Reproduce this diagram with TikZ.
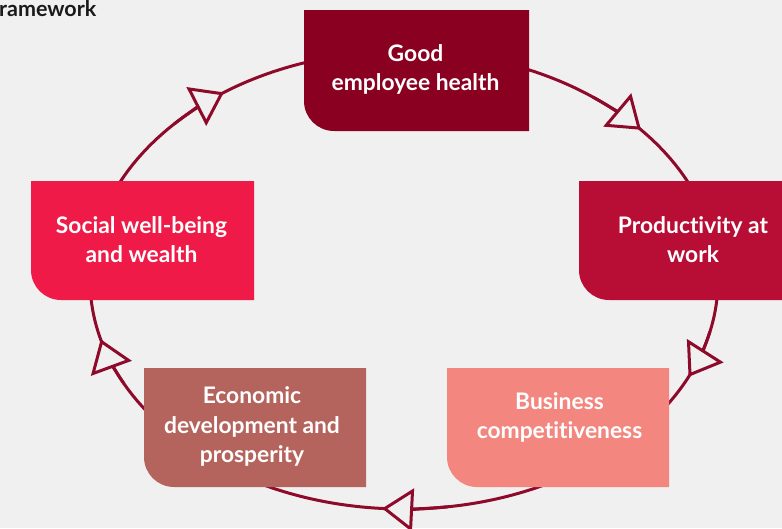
\documentclass[tikz,border=0pt]{standalone}
\usepackage{fontspec}
\setmainfont{Lato}[Ligatures=NoCommon]
\usetikzlibrary{arrows.meta}
\definecolor{bgc}{HTML}{F0F0F0}
\definecolor{ringc}{HTML}{8E0A2B}
\definecolor{cgood}{HTML}{8A0021}
\definecolor{cprod}{HTML}{B80D35}
\definecolor{csoc}{HTML}{EF1A47}
\definecolor{cecon}{HTML}{B5645D}
\definecolor{cbus}{HTML}{F3877F}
\definecolor{titlec}{HTML}{1A1A1A}
\newcommand\myshape[5]{\fill[#5] (#1,#2) -- (#3,#2) -- (#3,#4) -- ({#1+30},#4) arc[start angle=90,end angle=180,radius=30] -- cycle;}
\begin{document}
\begin{tikzpicture}[x=1pt,y=-1pt,
  ring/.style={draw=ringc,line width=3pt},
  arr/.style={ring,-{Triangle[length=31pt,width=43pt,fill=bgc]}},
  lbl/.style={text=white,font=\fontsize{22.8}{29.5}\selectfont\bfseries,align=center,inner sep=0pt}]
\fill[bgc] (0,0) rectangle (782,528);
\useasboundingbox (0,0) rectangle (782,528);
\draw[ring] (404,280) ellipse[x radius=314,y radius=229];
\foreach \t in {25,94,165,235,319}{
  \pgfmathsetmacro\s{\t-12}
  \draw[arr] (404,280) ++(\s:314 and 229) arc[start angle=\s,end angle=\t,x radius=314,y radius=229];
}
\myshape{304}{10}{529}{131}{cgood}
\myshape{579}{181}{807}{300}{cprod}
\myshape{31}{181}{254}{300}{csoc}
\myshape{144}{368}{366}{487}{cecon}
\myshape{447}{368}{669}{487}{cbus}
\node[lbl] (good) at (415.5,69.5) {Good\\employee health};
\node[lbl] (prod) at (693,239.5) {Productivity at\\work};
\node[lbl] (soc) at (141.5,239.5) {Social well-being\\and wealth};
\node[lbl] (econ) at (252,426.5) {Economic\\development and\\prosperity};
\node[lbl] (bus) at (559.5,417.5) {Business\\competitiveness};
\node[anchor=base west,font=\fontsize{21.5}{24}\selectfont\bfseries,text=titlec,inner sep=0pt] (title) at (-1,16.5) {ramework};
\end{tikzpicture}
\end{document}
